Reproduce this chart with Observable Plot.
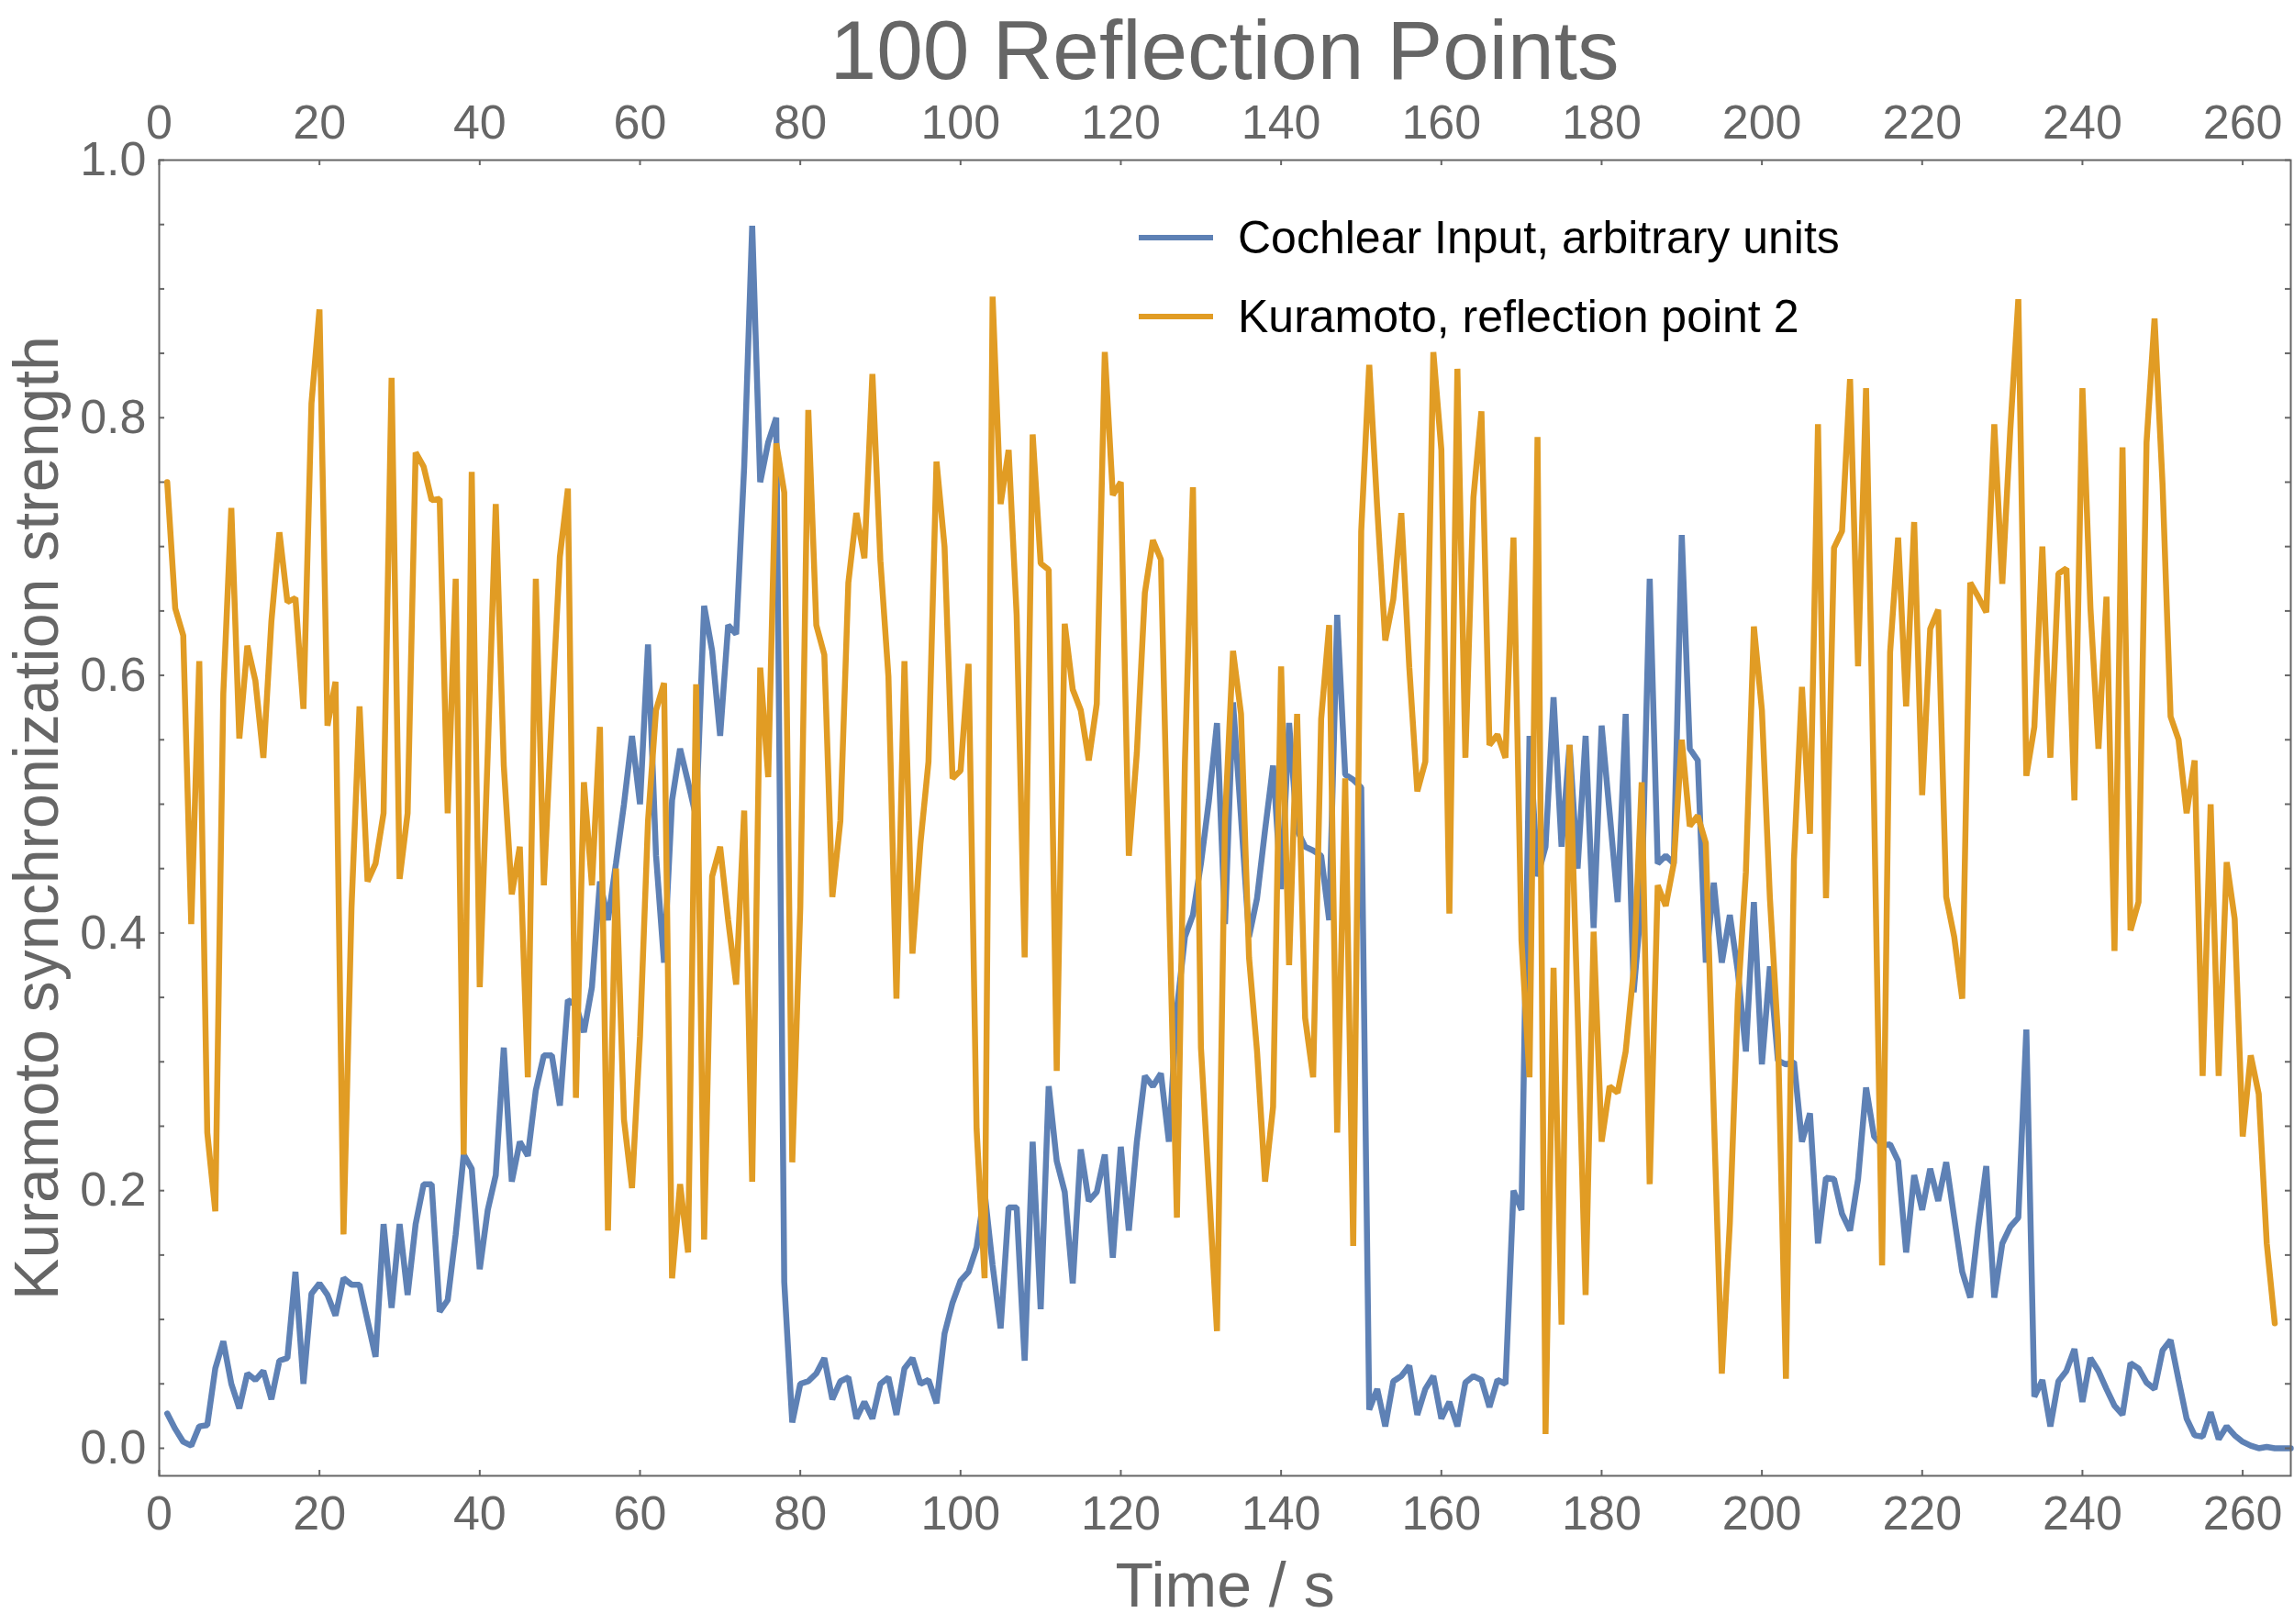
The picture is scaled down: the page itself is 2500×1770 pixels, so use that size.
<!DOCTYPE html>
<html><head><meta charset="utf-8">
<script src="https://cdn.jsdelivr.net/npm/d3@7"></script>
<script src="https://cdn.jsdelivr.net/npm/@observablehq/plot@0.6"></script>
<style>
body{margin:0;background:#fff;}
#wrap{position:relative;width:2500px;height:1770px;font-family:"Liberation Sans",Arial,sans-serif;background:#fff;overflow:hidden;}
#title{position:absolute;left:173px;width:2323px;top:9px;text-align:center;font-size:91px;line-height:91px;color:#666;white-space:nowrap;}
#chart{position:absolute;left:0;top:100px;}
.lg{position:absolute;left:1241px;height:60px;display:flex;align-items:center;font-size:50px;line-height:60px;color:#000;white-space:nowrap;}
.sw{width:81px;height:6px;margin-right:27px;}
</style>
</head><body>
<div id="wrap">
  <div id="title"></div>
  <div id="chart"></div>
  <div id="legend"></div>
</div>
<script>
const titleText = "100 Reflection Points";
const xLabel = "Time / s";
const yLabel = "Kuramoto synchronization strength";
const seriesNames = ["Cochlear Input, arbitrary units", "Kuramoto, reflection point 2"];
const seriesColors = ["#5E81B5", "#E19C24"];

const xTicks = [0,20,40,60,80,100,120,140,160,180,200,220,240,260];
const yTicks = [0,0.2,0.4,0.6,0.8,1.0];
const yMinorTicks = [0,0.05,0.1,0.15,0.2,0.25,0.3,0.35,0.4,0.45,0.5,0.55,0.6,0.65,0.7,0.75,0.8,0.85,0.9,0.95,1.0];

// Cochlear input, t = 1..266
const cochlear = [
0.027,0.015,0.005,0.002,0.017,0.018,0.062,0.083,0.05,0.031,
0.058,0.053,0.06,0.038,0.068,0.07,0.137,0.05,0.12,0.128,
0.119,0.103,0.132,0.127,0.127,0.099,0.071,0.174,0.109,0.174,
0.119,0.174,0.205,0.205,0.106,0.115,0.166,0.228,0.217,0.139,
0.185,0.212,0.311,0.207,0.238,0.227,0.278,0.305,0.305,0.266,
0.348,0.344,0.323,0.358,0.44,0.41,0.454,0.5,0.553,0.5,
0.624,0.46,0.377,0.503,0.543,0.517,0.49,0.654,0.619,0.553,
0.639,0.632,0.762,0.949,0.75,0.781,0.8,0.129,0.02,0.05,
0.052,0.058,0.07,0.038,0.052,0.055,0.023,0.036,0.023,0.05,
0.055,0.026,0.062,0.07,0.05,0.053,0.035,0.089,0.113,0.13,
0.137,0.156,0.199,0.142,0.093,0.187,0.187,0.068,0.238,0.108,
0.281,0.223,0.199,0.128,0.232,0.192,0.199,0.228,0.148,0.234,
0.169,0.238,0.289,0.281,0.291,0.238,0.341,0.397,0.414,0.454,
0.503,0.563,0.407,0.579,0.49,0.397,0.427,0.48,0.53,0.434,
0.563,0.48,0.467,0.464,0.46,0.41,0.647,0.523,0.519,0.513,
0.03,0.046,0.017,0.052,0.056,0.064,0.026,0.046,0.056,0.023,
0.036,0.017,0.051,0.056,0.053,0.032,0.053,0.05,0.2,0.185,
0.553,0.444,0.467,0.583,0.467,0.546,0.45,0.553,0.404,0.561,
0.493,0.424,0.57,0.354,0.427,0.675,0.454,0.46,0.454,0.709,
0.543,0.534,0.377,0.439,0.377,0.414,0.37,0.308,0.424,0.298,
0.374,0.301,0.298,0.3,0.238,0.26,0.159,0.21,0.209,0.182,
0.169,0.209,0.28,0.242,0.235,0.236,0.223,0.152,0.212,0.185,
0.217,0.192,0.222,0.179,0.137,0.117,0.172,0.219,0.117,0.159,
0.172,0.179,0.325,0.04,0.053,0.017,0.052,0.06,0.077,0.036,
0.07,0.06,0.046,0.033,0.026,0.066,0.062,0.051,0.046,0.076,
0.084,0.053,0.023,0.01,0.009,0.028,0.007,0.017,0.01,0.005,
0.002,0,0.001,0,0,0
];

// Kuramoto, reflection point 2, t = 1..264
const kuramoto = [
0.75,0.652,0.631,0.407,0.611,0.245,0.184,0.586,0.73,0.551,
0.623,0.596,0.536,0.642,0.711,0.657,0.66,0.574,0.811,0.884,
0.561,0.595,0.166,0.42,0.576,0.44,0.454,0.493,0.831,0.442,
0.493,0.773,0.762,0.736,0.737,0.493,0.675,0.228,0.758,0.358,
0.54,0.733,0.53,0.43,0.467,0.288,0.675,0.437,0.57,0.692,
0.745,0.272,0.517,0.437,0.56,0.169,0.45,0.255,0.202,0.32,
0.487,0.573,0.594,0.132,0.205,0.152,0.593,0.162,0.444,0.467,
0.41,0.36,0.495,0.207,0.606,0.521,0.78,0.742,0.222,0.42,
0.806,0.639,0.616,0.428,0.487,0.672,0.726,0.691,0.834,0.689,
0.599,0.349,0.611,0.384,0.47,0.533,0.766,0.7,0.52,0.526,
0.609,0.248,0.132,0.894,0.733,0.775,0.647,0.381,0.787,0.687,
0.682,0.293,0.64,0.589,0.573,0.534,0.578,0.851,0.74,0.75,
0.46,0.54,0.664,0.705,0.69,0.43,0.179,0.533,0.746,0.311,
0.202,0.091,0.487,0.619,0.57,0.381,0.308,0.207,0.265,0.607,
0.375,0.57,0.334,0.288,0.566,0.639,0.245,0.52,0.157,0.712,
0.841,0.73,0.627,0.659,0.726,0.606,0.51,0.533,0.851,0.775,
0.415,0.838,0.536,0.738,0.805,0.546,0.554,0.536,0.707,0.394,
0.288,0.785,0.011,0.373,0.096,0.546,0.34,0.119,0.401,0.238,
0.281,0.276,0.308,0.371,0.517,0.205,0.437,0.421,0.454,0.55,
0.483,0.491,0.47,0.26,0.058,0.175,0.348,0.447,0.638,0.573,
0.427,0.321,0.054,0.457,0.591,0.477,0.795,0.427,0.699,0.712,
0.83,0.607,0.823,0.5,0.142,0.618,0.707,0.576,0.719,0.507,
0.636,0.651,0.428,0.397,0.349,0.672,0.661,0.649,0.795,0.671,
0.791,0.892,0.522,0.56,0.7,0.536,0.679,0.683,0.503,0.823,
0.652,0.543,0.661,0.386,0.777,0.402,0.424,0.781,0.877,0.748,
0.568,0.55,0.493,0.534,0.289,0.5,0.289,0.455,0.411,0.242,
0.305,0.275,0.159,0.097
];

const W = 2500, H = 1670;
const mT = 74, mB = 162, mL = 173, mR = 4;
const plotW = W - mL - mR, plotH = H - mT - mB;
const tickLen = 6;
const grey = "#666666";

const cochData = cochlear.map((v, i) => ({t: i + 1, v}));
const kuraData = kuramoto.map((v, i) => ({t: i + 1, v}));

document.getElementById("title").textContent = titleText;

const chart = Plot.plot({
  width: W, height: H,
  marginTop: mT, marginBottom: mB, marginLeft: mL, marginRight: mR,
  x: {domain: [0, 266]},
  y: {domain: [-0.0214, 1]},
  style: {fontFamily: '"Liberation Sans", Arial, sans-serif', fontSize: "52px", background: "white", overflow: "visible"},
  marks: [
    Plot.line(cochData, {x: "t", y: "v", stroke: seriesColors[0], strokeWidth: 6.5, strokeLinejoin: "bevel"}),
    Plot.line(kuraData, {x: "t", y: "v", stroke: seriesColors[1], strokeWidth: 6.5, strokeLinejoin: "bevel"}),
    Plot.frame({stroke: grey, strokeWidth: 2}),
    Plot.tickX(xTicks, {x: d => d, stroke: grey, strokeWidth: 2, insetTop: plotH - tickLen}),
    Plot.tickX(xTicks, {x: d => d, stroke: grey, strokeWidth: 2, insetBottom: plotH - tickLen}),
    Plot.tickY(yMinorTicks, {y: d => d, stroke: grey, strokeWidth: 2, insetRight: plotW - tickLen}),
    Plot.tickY(yMinorTicks, {y: d => d, stroke: grey, strokeWidth: 2, insetLeft: plotW - tickLen}),
    Plot.axisX({anchor: "bottom", ticks: xTicks, tickSize: 0, tickPadding: 22, color: grey, label: null, fontSize: 52}),
    Plot.axisX({anchor: "top", ticks: xTicks, tickSize: 0, tickPadding: 24, color: grey, label: null, fontSize: 52}),
    Plot.axisY({anchor: "left", ticks: yTicks, tickFormat: d3.format(".1f"), tickSize: 0, tickPadding: 14, color: grey, label: null, fontSize: 52}),
    Plot.text([xLabel], {text: d => d, frameAnchor: "bottom", textAnchor: "middle", lineAnchor: "middle", dy: 121, fontSize: 68, fill: grey}),
    Plot.text([yLabel], {text: d => d, frameAnchor: "left", textAnchor: "middle", lineAnchor: "middle", dx: -132, rotate: -90, fontSize: 68, fill: grey})
  ]
});
document.getElementById("chart").appendChild(chart);

const legend = document.getElementById("legend");
const legendY = [259, 345];
seriesNames.forEach((name, i) => {
  const row = document.createElement("div");
  row.className = "lg";
  row.style.top = (legendY[i] - 30) + "px";
  const sw = document.createElement("div");
  sw.className = "sw";
  sw.style.background = seriesColors[i];
  const tx = document.createElement("span");
  tx.textContent = name;
  row.appendChild(sw); row.appendChild(tx);
  legend.appendChild(row);
});
</script>
</body></html>
